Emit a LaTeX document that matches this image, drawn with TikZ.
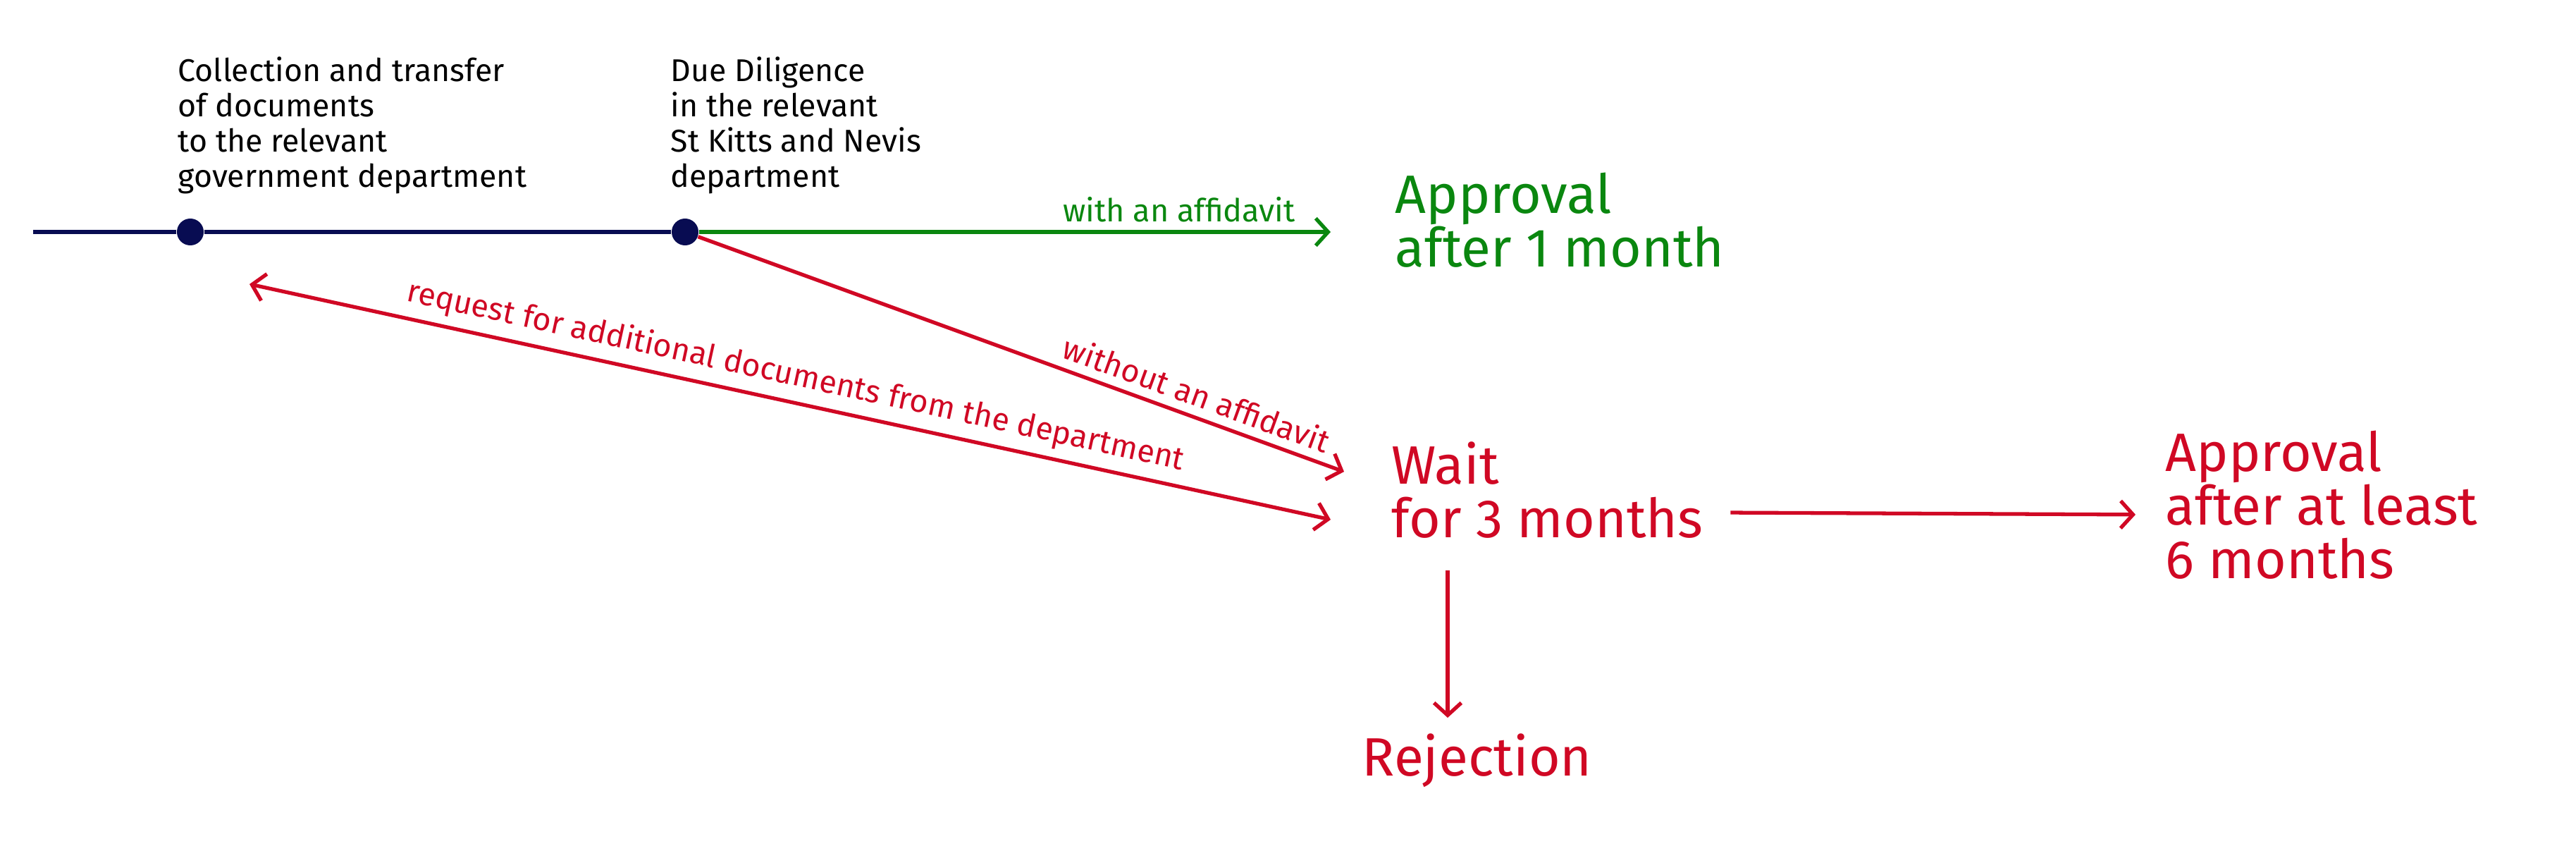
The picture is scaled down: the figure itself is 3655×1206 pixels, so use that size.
\documentclass[tikz,border=0pt]{standalone}
\usepackage{fontspec}
\setmainfont{Fira Sans}
\usetikzlibrary{arrows.meta,positioning}
\definecolor{dnavy}{RGB}{8,12,82}
\definecolor{dgreen}{RGB}{10,135,15}
\definecolor{dred}{RGB}{208,8,36}

\begin{document}
\begin{tikzpicture}[x=0.01cm,y=-0.01cm,
  stage/.style={circle,fill=dnavy,inner sep=0pt,minimum size=0.38cm},
  steptext/.style={anchor=north west,align=left,inner sep=0pt,
    font=\fontsize{12.7}{14.2}\selectfont},
  result/.style={anchor=north west,align=left,inner sep=0pt,
    font=\fontsize{21.8}{21.6}\selectfont},
  flowarr/.style={-{Straight Barb[length=5pt,width=11pt]},line width=1.5pt},
  flowlbl/.style={font=\fontsize{12.8}{14}\selectfont,sloped,above}
]
  \useasboundingbox (0,0) rectangle (3655,1206);
  % timeline
  \coordinate (lstart) at (47,329);
  \node[stage] (s1) at (270,329) {};
  \node[stage] (s2) at (972,329) {};
  \draw[dnavy,line width=1.6pt] (lstart) -- (s1) -- (s2);
  \node[steptext] (t1) at (252,80) {Collection and transfer\\of documents\\to the relevant\\government department};
  \node[steptext] (t2) at (951,80) {Due Diligence\\in the relevant\\St Kitts and Nevis\\department};
  % outcomes
  \node[result,dgreen] (aok) at (1979,244) {Approval\\after 1 month};
  \node[result,dred] (wait) at (1974,626) {Wait\\for 3 months};
  \node[result,dred] (appr) at (3072,610) {Approval\\after at least\\6 months};
  \node[result,dred] (rej) at (1932,1040) {Rejection};
  % arrows
  \draw[flowarr,dgreen,shorten >=0.91cm] (s2) -- node[flowlbl,pos=0.69] {with an affidavit} (s2 -| aok.west);
  \draw[flowarr,dred] (s2) -- node[flowlbl,pos=0.76] {without an affidavit} ([shift={(-67,43)}]wait.north west);
  \coordinate (reqend) at (354,403);
  \draw[flowarr,dred,{Straight Barb[length=5pt,width=11pt]}-{Straight Barb[length=5pt,width=11pt]}] (reqend) -- node[flowlbl,pos=0.5] {request for additional documents from the department} ([shift={(-86,111)}]wait.north west);
  \draw[flowarr,dred] ([shift={(38,32)}]wait.east) -- ([shift={(-42,14)}]appr.west);
  \draw[flowarr,dred,shorten >=0.22cm] ([shift={(80,45)}]wait.south west) coordinate (dn) -- (dn |- rej.north);
\end{tikzpicture}
\end{document}
